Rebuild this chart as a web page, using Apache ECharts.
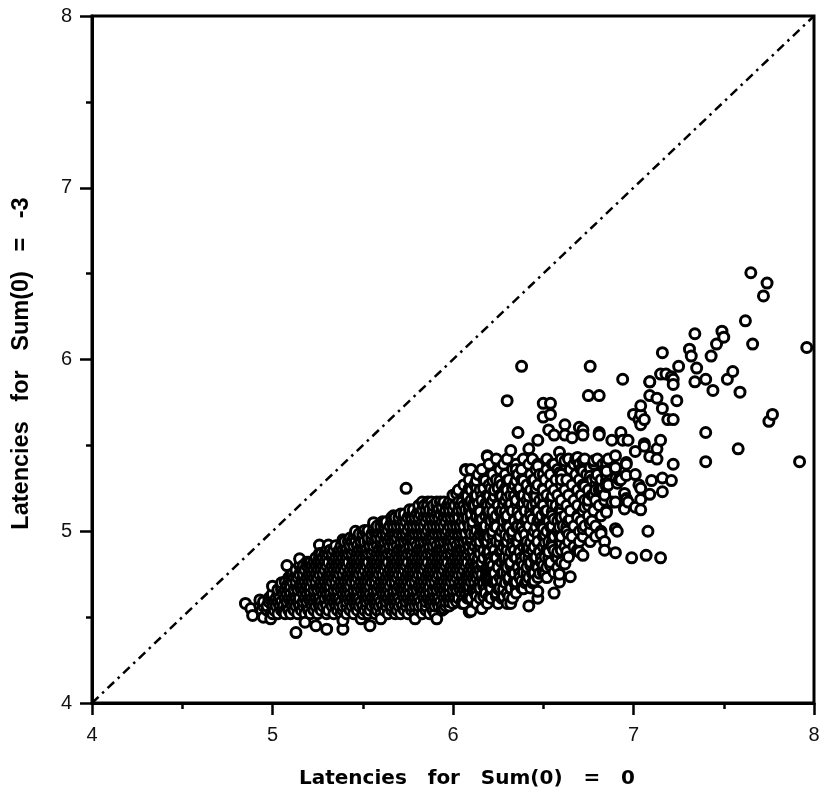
<!DOCTYPE html>
<html>
<head>
<meta charset="utf-8">
<script src="https://cdn.jsdelivr.net/npm/echarts@6/dist/echarts.min.js"></script>
<style>html,body{margin:0;background:#fff}#main{width:819px;height:791px}</style>
</head>
<body>
<div id="main"></div>
<script>
// latency pairs, the packed body goes in rows [y, [x, x, ...]]
var coreRows = [
[4.52,[5.0,5.03,5.07,5.1,5.14,5.18,5.21,5.25,5.3,5.34,5.38,5.41,5.45,5.5,5.53,5.57,5.6,5.64,5.68,5.71,5.75,5.79,5.83,5.87,5.9]],
[4.54,[4.94,4.97,5.01,5.05,5.09,5.12,5.16,5.2,5.23,5.27,5.31,5.36,5.39,5.43,5.47,5.51,5.54,5.58,5.62,5.66,5.69,5.73,5.77,5.81,5.85,5.89,5.94]],
[4.565,[4.93,4.95,4.97,5.0,5.02,5.04,5.06,5.08,5.11,5.13,5.15,5.17,5.19,5.22,5.24,5.26,5.28,5.3,5.33,5.35,5.37,5.39,5.41,5.44,5.46,5.48,5.5,5.52,5.55,5.57,5.59,5.61,5.63,5.66,5.68,5.7,5.72,5.74,5.77,5.79,5.81,5.83,5.85,5.88,5.9,5.92,5.94,5.96,5.98]],
[4.59,[4.95,4.98,5.01,5.03,5.05,5.08,5.1,5.12,5.14,5.17,5.19,5.21,5.23,5.25,5.27,5.29,5.32,5.34,5.36,5.38,5.41,5.43,5.45,5.47,5.49,5.52,5.54,5.56,5.58,5.6,5.63,5.65,5.67,5.69,5.71,5.74,5.76,5.78,5.8,5.82,5.85,5.87,5.89,5.91,5.93,5.96,5.98,6.0,6.02,6.05]],
[4.61,[4.98,5.0,5.02,5.04,5.07,5.09,5.11,5.13,5.15,5.18,5.2,5.22,5.24,5.26,5.29,5.31,5.33,5.35,5.37,5.4,5.42,5.44,5.46,5.48,5.51,5.53,5.55,5.57,5.59,5.62,5.64,5.66,5.68,5.7,5.73,5.75,5.77,5.79,5.81,5.84,5.86,5.88,5.9,5.92,5.95,5.97,5.99,6.01,6.03,6.06,6.08,6.1]],
[4.635,[5.0,5.03,5.06,5.08,5.1,5.12,5.14,5.17,5.19,5.21,5.23,5.25,5.28,5.3,5.32,5.34,5.36,5.39,5.41,5.43,5.45,5.47,5.5,5.52,5.54,5.56,5.58,5.61,5.63,5.65,5.67,5.69,5.72,5.74,5.76,5.78,5.8,5.83,5.85,5.87,5.89,5.91,5.94,5.96,5.98,6.0,6.02,6.05,6.07,6.09,6.13]],
[4.66,[5.03,5.05,5.07,5.09,5.12,5.14,5.16,5.18,5.2,5.23,5.25,5.27,5.29,5.31,5.34,5.36,5.38,5.4,5.42,5.45,5.47,5.49,5.51,5.53,5.56,5.58,5.6,5.62,5.64,5.67,5.69,5.71,5.73,5.75,5.78,5.8,5.82,5.84,5.86,5.89,5.91,5.93,5.95,5.97,6.0,6.02,6.04,6.06,6.08,6.11,6.13,6.15,6.18]],
[4.68,[5.05,5.08,5.1,5.13,5.15,5.17,5.19,5.21,5.24,5.26,5.28,5.3,5.32,5.35,5.37,5.39,5.41,5.43,5.46,5.48,5.5,5.52,5.54,5.57,5.59,5.61,5.63,5.65,5.68,5.7,5.72,5.74,5.76,5.79,5.81,5.83,5.85,5.87,5.9,5.92,5.94,5.96,5.98,6.01,6.03,6.05,6.07,6.09,6.12,6.14,6.17]],
[4.705,[5.07,5.09,5.11,5.13,5.16,5.18,5.2,5.22,5.24,5.27,5.29,5.31,5.33,5.35,5.38,5.4,5.42,5.44,5.46,5.49,5.51,5.53,5.55,5.57,5.6,5.62,5.64,5.66,5.68,5.71,5.73,5.75,5.77,5.79,5.82,5.84,5.86,5.88,5.9,5.93,5.95,5.97,5.99,6.01,6.04,6.06,6.08,6.1,6.12,6.15,6.17,6.19,6.22]],
[4.73,[5.09,5.12,5.14,5.17,5.19,5.21,5.23,5.25,5.28,5.3,5.32,5.34,5.36,5.39,5.41,5.43,5.45,5.47,5.5,5.52,5.54,5.56,5.58,5.61,5.63,5.65,5.67,5.69,5.72,5.74,5.76,5.78,5.8,5.83,5.85,5.87,5.89,5.91,5.94,5.96,5.98,6.0,6.02,6.05,6.07,6.09,6.11,6.13,6.16,6.18,6.21]],
[4.75,[5.11,5.13,5.15,5.17,5.2,5.22,5.24,5.26,5.28,5.31,5.33,5.35,5.37,5.39,5.42,5.44,5.46,5.48,5.5,5.53,5.55,5.57,5.59,5.61,5.64,5.66,5.68,5.7,5.72,5.75,5.77,5.79,5.81,5.83,5.86,5.88,5.9,5.92,5.94,5.97,5.99,6.01,6.03,6.05,6.08,6.1,6.12,6.14,6.16,6.19,6.22]],
[4.775,[5.13,5.16,5.18,5.21,5.23,5.25,5.27,5.29,5.32,5.34,5.36,5.38,5.4,5.43,5.45,5.47,5.49,5.51,5.54,5.56,5.58,5.6,5.62,5.65,5.67,5.69,5.71,5.73,5.76,5.78,5.8,5.82,5.84,5.87,5.89,5.91,5.93,5.95,5.98,6.0,6.02,6.04,6.06,6.09,6.11,6.13,6.15,6.18,6.21]],
[4.8,[5.15,5.17,5.19,5.22,5.24,5.26,5.28,5.3,5.33,5.35,5.37,5.39,5.41,5.44,5.46,5.48,5.5,5.52,5.55,5.57,5.59,5.61,5.63,5.66,5.68,5.7,5.72,5.74,5.77,5.79,5.81,5.83,5.85,5.88,5.9,5.92,5.94,5.96,5.99,6.01,6.03,6.05,6.07,6.1,6.12,6.14,6.16,6.2]],
[4.82,[5.19,5.21,5.23,5.25,5.27,5.29,5.31,5.34,5.36,5.38,5.4,5.42,5.45,5.47,5.49,5.51,5.53,5.56,5.58,5.6,5.62,5.64,5.67,5.69,5.71,5.73,5.75,5.78,5.8,5.82,5.84,5.86,5.89,5.91,5.93,5.95,5.97,6.0,6.02,6.04,6.06,6.08,6.11,6.13,6.16,6.2]],
[4.845,[5.24,5.26,5.28,5.3,5.33,5.35,5.37,5.39,5.41,5.44,5.46,5.48,5.5,5.52,5.55,5.57,5.59,5.61,5.63,5.66,5.68,5.7,5.72,5.74,5.77,5.79,5.81,5.83,5.85,5.88,5.9,5.92,5.94,5.96,5.99,6.01,6.03,6.05,6.07,6.1,6.12,6.14,6.17,6.2]],
[4.87,[5.27,5.29,5.31,5.33,5.36,5.38,5.4,5.42,5.44,5.47,5.49,5.51,5.53,5.55,5.58,5.6,5.62,5.64,5.66,5.69,5.71,5.73,5.75,5.77,5.8,5.82,5.84,5.86,5.88,5.91,5.93,5.95,5.97,5.99,6.02,6.04,6.06,6.08,6.11,6.15,6.19]],
[4.89,[5.3,5.32,5.34,5.37,5.39,5.41,5.43,5.45,5.48,5.5,5.52,5.54,5.56,5.59,5.61,5.63,5.65,5.67,5.7,5.72,5.74,5.76,5.78,5.81,5.83,5.85,5.87,5.89,5.92,5.94,5.96,5.98,6.0,6.03,6.05,6.07,6.09,6.11,6.14,6.17,6.2]],
[4.915,[5.35,5.38,5.4,5.43,5.45,5.47,5.49,5.51,5.54,5.56,5.58,5.6,5.62,5.65,5.67,5.69,5.71,5.73,5.76,5.78,5.8,5.82,5.84,5.87,5.89,5.91,5.93,5.95,5.98,6.0,6.02,6.04,6.06,6.09,6.12,6.15,6.19]],
[4.94,[5.4,5.42,5.44,5.46,5.49,5.51,5.53,5.55,5.57,5.6,5.62,5.64,5.66,5.68,5.71,5.73,5.75,5.77,5.79,5.82,5.84,5.86,5.88,5.9,5.93,5.95,5.97,5.99,6.01,6.04,6.06,6.08,6.1,6.13,6.15,6.18]],
[4.96,[5.43,5.45,5.48,5.5,5.53,5.55,5.58,5.6,5.63,5.65,5.67,5.69,5.72,5.74,5.76,5.78,5.81,5.83,5.85,5.87,5.89,5.92,5.94,5.96,5.98,6.0,6.03,6.05,6.07,6.1,6.14,6.17]],
[4.985,[5.46,5.48,5.5,5.52,5.55,5.57,5.59,5.61,5.63,5.66,5.68,5.7,5.72,5.74,5.77,5.79,5.81,5.83,5.85,5.88,5.9,5.92,5.94,5.96,5.99,6.01,6.03,6.05,6.07,6.1,6.12,6.15,6.18]],
[5.005,[5.51,5.53,5.56,5.58,5.6,5.62,5.64,5.67,5.69,5.71,5.73,5.75,5.78,5.8,5.82,5.84,5.86,5.89,5.91,5.93,5.95,5.97,6.0,6.02,6.04,6.06,6.09,6.13,6.17]],
[5.03,[5.56,5.58,5.6,5.62,5.65,5.67,5.69,5.71,5.73,5.76,5.78,5.8,5.82,5.84,5.87,5.89,5.91,5.93,5.95,5.98,6.0,6.02,6.04,6.06,6.09,6.11,6.15]],
[5.055,[5.61,5.63,5.66,5.68,5.7,5.72,5.74,5.77,5.79,5.81,5.83,5.85,5.88,5.9,5.92,5.94,5.96,5.99,6.01,6.03,6.05,6.08,6.11,6.15]],
[5.08,[5.66,5.68,5.7,5.73,5.75,5.77,5.79,5.81,5.84,5.86,5.88,5.9,5.92,5.95,5.97,5.99,6.01,6.03,6.06,6.08,6.1,6.13,6.15]],
[5.1,[5.71,5.73,5.76,5.78,5.8,5.82,5.85,5.87,5.89,5.91,5.93,5.96,5.98,6.0,6.02,6.05,6.07,6.1,6.13]],
[5.125,[5.76,5.78,5.81,5.83,5.85,5.87,5.89,5.92,5.94,5.96,5.98,6.0,6.03,6.05,6.07,6.09,6.12]],
[5.15,[5.81,5.84,5.86,5.89,5.91,5.94,5.97,5.99,6.01,6.04,6.06,6.09,6.11]],
[5.17,[5.86,5.88,5.91,5.93,5.95,5.98,6.0,6.03,6.05,6.08,6.1,6.12]]
];
// thinner part of the cloud, right of x = 6.15
var fillRows = [
[4.62,[6.13,6.17,6.2,6.24,6.28,6.31]],
[4.665,[6.18,6.21,6.25,6.28,6.32,6.35,6.39]],
[4.71,[6.2,6.24,6.27,6.31,6.34,6.38,6.41,6.45]],
[4.755,[6.2,6.23,6.27,6.3,6.34,6.37,6.41,6.44,6.48,6.51]],
[4.8,[6.22,6.25,6.29,6.32,6.36,6.39,6.43,6.46,6.5,6.54]],
[4.845,[6.21,6.24,6.28,6.31,6.35,6.38,6.42,6.45,6.49,6.53,6.58]],
[4.89,[6.2,6.23,6.27,6.3,6.34,6.37,6.41,6.44,6.48,6.52,6.56,6.6]],
[4.935,[6.19,6.22,6.26,6.29,6.33,6.36,6.4,6.43,6.47,6.51,6.55,6.6]],
[4.98,[6.19,6.22,6.26,6.29,6.33,6.37,6.4,6.44,6.47,6.51,6.55,6.59,6.64]],
[5.025,[6.17,6.21,6.24,6.28,6.31,6.35,6.38,6.42,6.46,6.5,6.54,6.59,6.63]],
[5.07,[6.16,6.2,6.23,6.27,6.3,6.34,6.37,6.41,6.44,6.48,6.52,6.56,6.6,6.65]],
[5.115,[6.15,6.19,6.22,6.26,6.29,6.33,6.36,6.4,6.43,6.47,6.51,6.55,6.6]],
[5.16,[6.14,6.18,6.21,6.25,6.28,6.32,6.35,6.39,6.42,6.46,6.5,6.55,6.6]],
[5.205,[6.08,6.12,6.16,6.2,6.23,6.27,6.3,6.34,6.38,6.42,6.46,6.5,6.55]],
[5.25,[6.09,6.13,6.17,6.21,6.25,6.29,6.33,6.37,6.41,6.46,6.5]],
[5.295,[6.13,6.18,6.22,6.26,6.3,6.35,6.39,6.44]]
];
var sideRows = [
[5.42,[6.24,6.3,6.39,6.44,6.52,6.6,6.64,6.68,6.73,6.8,6.86]],
[5.39,[6.2,6.28,6.35,6.42,6.47,6.55,6.62,6.67,6.7,6.78,6.83]],
[5.36,[6.1,6.16,6.26,6.33,6.38,6.46,6.52,6.58,6.65,6.71,6.76,6.84,6.9]],
[5.33,[6.14,6.22,6.29,6.36,6.43,6.48,6.54,6.6,6.68,6.74,6.8,6.85]],
[5.3,[6.09,6.17,6.24,6.31,6.38,6.45,6.51,6.57,6.63,6.7,6.77,6.82,6.92]],
[5.27,[6.06,6.12,6.2,6.27,6.34,6.41,6.47,6.54,6.6,6.66,6.72,6.79,6.86]],
[5.24,[6.03,6.1,6.15,6.23,6.3,6.36,6.43,6.5,6.56,6.62,6.69,6.75,6.81]],
[5.21,[6.0,6.07,6.13,6.19,6.26,6.32,6.39,6.45,6.52,6.58,6.64,6.71,6.77,6.84]],
[5.18,[6.1,6.16,6.22,6.29,6.35,6.41,6.48,6.54,6.6,6.67,6.73,6.79,6.84]],
[5.15,[6.12,6.19,6.25,6.31,6.38,6.44,6.5,6.57,6.63,6.69,6.75,6.81]],
[5.12,[6.14,6.2,6.27,6.33,6.4,6.46,6.52,6.59,6.65,6.72,6.78,6.85]],
[5.09,[6.13,6.18,6.24,6.3,6.37,6.43,6.49,6.55,6.62,6.69,6.75,6.82]],
[5.06,[6.15,6.21,6.28,6.34,6.4,6.47,6.53,6.58,6.64,6.71,6.77]],
[5.03,[6.18,6.23,6.3,6.36,6.42,6.49,6.55,6.61,6.67,6.73]],
[5.0,[6.16,6.22,6.27,6.33,6.39,6.45,6.52,6.58,6.63,6.7,6.76,6.82]],
[4.97,[6.2,6.26,6.31,6.37,6.44,6.5,6.56,6.6,6.66,6.72,6.79]],
[4.94,[6.19,6.24,6.3,6.35,6.41,6.47,6.53,6.59,6.64,6.7]],
[4.91,[6.22,6.28,6.33,6.39,6.45,6.5,6.55,6.62,6.67]],
[4.88,[6.2,6.26,6.32,6.37,6.42,6.48,6.53,6.58,6.63,6.7]],
[4.85,[6.23,6.29,6.34,6.4,6.46,6.51,6.57,6.64]],
[4.82,[6.21,6.27,6.32,6.38,6.43,6.49,6.54,6.6]],
[4.79,[6.19,6.25,6.3,6.36,6.41,6.47,6.52,6.58]],
[4.76,[6.22,6.28,6.33,6.39,6.45,6.5,6.56]],
[4.73,[6.2,6.26,6.31,6.37,6.42,6.47,6.52]],
[4.7,[6.17,6.23,6.29,6.34,6.4,6.44]],
[4.67,[6.15,6.21,6.26,6.32,6.38,6.43]],
[4.64,[6.12,6.18,6.24,6.3,6.35]],
[4.61,[6.09,6.15,6.21,6.27,6.33]],
[4.58,[6.0,6.06,6.13,6.19,6.25,6.3]]
];
// rim of the cloud
var edgeX = [4.85,4.88,4.89,4.93,4.95,4.99,4.99,5.0,4.99,5.05,5.06,5.08,5.1,5.15,5.2,5.26,5.31,5.26,5.39,5.46,5.56,5.62,5.67,5.74,5.83,5.86,5.97,5.94,6.02,6.07,5.13,5.18,5.24,5.3,5.39,5.39,5.49,5.54,5.6,5.79,5.91,5.95,6.09,6.05];
var edgeY = [4.58,4.55,4.51,4.6,4.5,4.52,4.49,4.68,4.62,4.7,4.53,4.8,4.74,4.84,4.82,4.92,4.92,4.87,4.95,5.0,5.05,5.05,5.09,5.25,5.17,5.15,5.15,5.14,5.22,5.36,4.41,4.47,4.45,4.43,4.43,4.48,4.49,4.45,4.49,4.49,4.49,4.55,4.53,4.58];
// the loose points on the right and on top
var looseX = [6.19,6.32,6.42,6.47,6.47,6.35,6.59,6.59,6.62,6.56,6.69,6.72,6.72,6.5,6.76,6.79,6.6,6.85,6.73,6.96,7.01,7.01,6.85,6.96,6.9,6.76,6.79,6.83,6.84,6.88,6.95,6.97,6.95,6.93,6.91,6.85,6.82,6.78,6.75,6.75,6.81,6.5,6.54,6.5,6.54,6.36,6.53,6.56,6.62,6.62,6.66,6.7,6.72,6.72,6.81,6.81,6.93,6.88,6.97,6.94,7.06,7.06,7.15,7.13,7.13,7.09,7.22,7.0,7.04,7.03,7.06,7.04,7.04,7.09,7.13,7.16,7.19,7.22,7.24,7.09,6.94,6.76,6.38,6.3,7.15,7.18,7.21,7.22,7.22,7.09,7.25,7.35,7.55,7.52,7.4,7.34,7.44,7.59,7.16,7.31,7.32,7.34,7.43,7.46,7.5,7.49,7.66,7.96,7.62,7.72,7.74,7.65,7.4,7.4,7.58,7.92,7.77,7.75,7.21,7.16,7.16,7.1,7.09,7.04,7.03,7.04,7.04,7.08,7.07,7.15,6.99,6.9,6.84,6.84,6.91,6.9,6.79,6.76,6.76,6.82,6.72,6.69,6.65,6.59,6.56,6.59,6.62,6.47,6.42,6.47,6.32,6.16,6.1,6.96,6.9,6.85,6.73,6.69,6.6,6.5,6.72,6.42,6.35,6.19,6.07,6.85,6.96,6.85,6.85,6.9,7.01,6.96,6.78];
var looseY = [5.44,5.47,5.48,5.53,5.38,5.36,5.34,5.46,5.41,5.39,5.43,5.41,5.35,5.33,5.37,5.31,5.3,5.29,5.26,5.19,5.14,5.33,5.4,5.4,5.37,5.32,5.24,5.25,5.21,5.17,5.22,5.17,5.13,5.3,5.28,5.26,5.24,5.21,5.18,5.79,5.79,5.745,5.745,5.665,5.68,5.575,5.59,5.56,5.62,5.56,5.545,5.605,5.59,5.56,5.575,5.56,5.575,5.53,5.53,5.53,5.51,5.495,5.53,5.48,5.42,5.435,5.39,5.68,5.68,5.65,5.65,5.62,5.73,5.79,5.775,5.715,5.65,5.65,5.76,5.87,5.885,5.96,5.96,5.76,5.915,5.915,5.9,5.885,5.855,5.87,5.96,5.95,5.93,5.885,5.885,5.87,5.82,5.81,6.04,6.06,6.02,6.15,6.02,6.09,6.13,6.165,6.09,6.07,6.225,6.37,6.445,6.505,5.575,5.405,5.48,5.405,5.68,5.64,5.295,5.31,5.23,5.295,5.215,5.25,5.27,5.185,5.125,5.0,4.86,4.845,4.845,4.875,4.94,4.89,5.0,5.015,5.03,5.045,4.94,4.985,4.86,4.89,4.735,4.705,4.64,4.75,4.81,4.61,4.565,4.65,4.58,4.55,4.535,5.185,5.17,5.11,5.14,5.08,5.08,5.015,5.015,4.905,4.705,5.435,5.355,5.325,5.325,5.35,5.28,5.44,5.465,5.39,5.41];
var xTicks = [4,5,6,7,8];
var yTicks = [4,5,6,7,8];
var diagonal = [[4,4],[8,8]];

var points = [];
coreRows.concat(fillRows, sideRows).forEach(function (row) {
    row[1].forEach(function (x) { points.push([x, row[0]]); });
});
edgeX.forEach(function (x, i) { points.push([x, edgeY[i]]); });
looseX.forEach(function (x, i) { points.push([x, looseY[i]]); });
// the original paints left to right, right hand rings lie on top
points.sort(function (a, b) { return a[0] - b[0]; });

var font = 'Liberation Sans, Arial, sans-serif';
var myChart = echarts.init(document.getElementById('main'), null, {renderer: 'canvas'});

function makeAxis(ticks, name, extra) {
    return Object.assign({
        type: 'value',
        min: ticks[0],
        max: ticks[ticks.length - 1],
        interval: 1,
        name: name,
        nameLocation: 'middle',
        splitLine: {show: false},
        axisLine: {show: true, onZero: false, lineStyle: {color: '#000', width: 3}},
        axisTick: {show: true, length: 12, lineStyle: {color: '#000', width: 2.5}},
        minorTick: {show: true, splitNumber: 2, length: 6, lineStyle: {color: '#000', width: 2.5}},
        minorSplitLine: {show: false}
    }, extra);
}

var option = {
    animation: false,
    backgroundColor: '#fff',
    grid: {left: 92, top: 16, width: 722, height: 687, outerBoundsMode: 'none', show: true, borderColor: '#000', borderWidth: 3, backgroundColor: 'transparent'},
    xAxis: makeAxis(xTicks, 'Latencies   for   Sum(0)   =   0', {
        nameGap: 66,
        // DejaVu bold stands in for the widely spaced bold of the x title
        nameTextStyle: {fontFamily: 'DejaVu Sans', fontSize: 20, fontWeight: 'bold', color: '#000', padding: [0, 0, 0, 28]},
        axisLabel: {fontFamily: font, fontSize: 20, color: '#111', margin: 22}
    }),
    yAxis: makeAxis(yTicks, 'Latencies   for   Sum(0)   =   -3', {
        nameGap: 58,
        nameTextStyle: {fontFamily: font, fontSize: 23.5, fontWeight: 'bold', color: '#000', padding: [0, 8, 0, 0]},
        axisLabel: {fontFamily: font, fontSize: 20, color: '#111', margin: 20}
    }),
    series: [
        {
            type: 'line',
            data: diagonal,
            silent: true,
            showSymbol: false,
            z: 2,
            lineStyle: {color: '#000', width: 2.5, type: [9, 5, 2.5, 5], cap: 'butt'}
        },
        {
            type: 'scatter',
            data: points,
            silent: true,
            symbol: 'circle',
            symbolSize: 10,
            progressive: 0,
            large: false,
            z: 3,
            itemStyle: {color: '#fff', opacity: 1, borderColor: '#000', borderWidth: 3}
        }
    ]
};
myChart.setOption(option, true);
</script>
</body>
</html>
